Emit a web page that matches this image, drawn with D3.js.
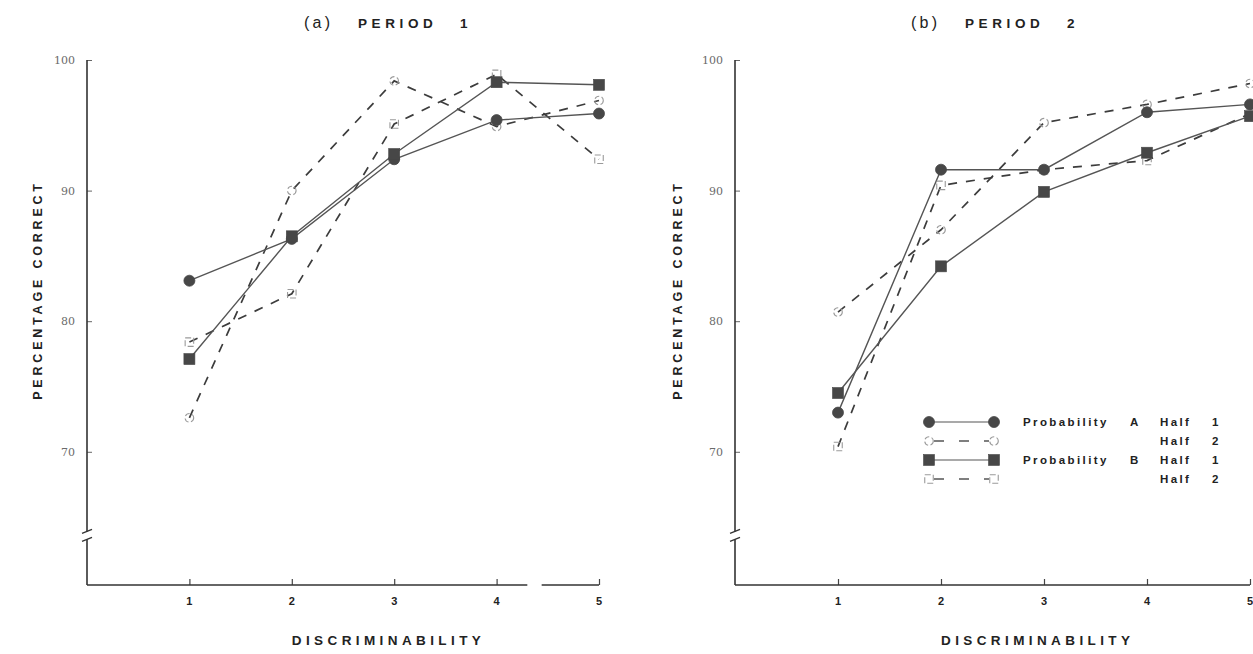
<!DOCTYPE html>
<html>
<head>
<meta charset="utf-8">
<script src="https://cdn.jsdelivr.net/npm/d3@7"></script>
<style>
  body { margin: 0; background: #fff; }
  svg { display: block; }
</style>
</head>
<body>
<svg id="chart" width="1253" height="654"></svg>
<script>
// ---- data -------------------------------------------------------------
const discriminability = [1, 2, 3, 4, 5];
const yTickValues = [70, 80, 90, 100];

// Period 1: percentage correct by discriminability level
const p1ProbAHalf1 = [83.1, 86.3, 92.4, 95.4, 95.9];
const p1ProbAHalf2 = [72.6, 90.0, 98.4, 94.9, 96.9];
const p1ProbBHalf1 = [77.1, 86.5, 92.8, 98.3, 98.1];
const p1ProbBHalf2 = [78.4, 82.1, 95.1, 98.9, 92.4];

// Period 2
const p2ProbAHalf1 = [73.0, 91.6, 91.6, 96.0, 96.6];
const p2ProbAHalf2 = [80.7, 87.0, 95.2, 96.6, 98.2];
const p2ProbBHalf1 = [74.5, 84.2, 89.9, 92.9, 95.7];
const p2ProbBHalf2 = [70.4, 90.4, 91.6, 92.3, 95.9];

const legendRows = [
  { key: "AH1", prob: "Probability", letter: "A", half: "Half", n: "1" },
  { key: "AH2", prob: "",            letter: "",  half: "Half", n: "2" },
  { key: "BH1", prob: "Probability", letter: "B", half: "Half", n: "1" },
  { key: "BH2", prob: "",            letter: "",  half: "Half", n: "2" }
];

// ---- styles per series ------------------------------------------------
const INK = "#474747";
const FAINT = "#9a9a9a";
const seriesStyle = {
  AH1: { marker: "circle", filled: true,  dashed: false },
  AH2: { marker: "circle", filled: false, dashed: true  },
  BH1: { marker: "square", filled: true,  dashed: false },
  BH2: { marker: "square", filled: false, dashed: true  }
};

const svg = d3.select("#chart");
const SANS = "'Liberation Sans', Arial, sans-serif";
const SERIF = "'DejaVu Serif', 'Liberation Serif', serif";

function drawMarker(g, type, filled, cx, cy) {
  if (type === "circle") {
    g.append("circle")
      .attr("cx", cx).attr("cy", cy)
      .attr("r", filled ? 5.5 : 4.3)
      .attr("fill", filled ? INK : "none")
      .attr("stroke", filled ? INK : FAINT)
      .attr("stroke-width", filled ? 0.8 : 1.1)
      .attr("stroke-dasharray", filled ? null : "5,2.5");
  } else {
    const s = filled ? 11 : 8.5;
    g.append("rect")
      .attr("x", cx - s / 2).attr("y", cy - s / 2)
      .attr("width", s).attr("height", s)
      .attr("fill", filled ? INK : "none")
      .attr("stroke", filled ? INK : FAINT)
      .attr("stroke-width", filled ? 0.6 : 1.1)
      .attr("stroke-dasharray", filled ? null : "6,2.5");
  }
}

function drawPanel(opt) {
  const x = d3.scaleLinear().domain([0, 5]).range([opt.left, opt.right]);
  const y = d3.scaleLinear().domain([100, 59.8]).range([60, 585]);
  const g = svg.append("g");

  // y axis (with break near the bottom)
  const yAxis = d3.axisRight(y).tickValues(yTickValues).tickSize(5).tickFormat("");
  const ya = g.append("g").attr("transform", `translate(${opt.left},0)`).call(yAxis);
  ya.select(".domain").remove();
  ya.selectAll(".tick line").attr("stroke", "#666").attr("stroke-width", 1);
  const breakTop = y(63.9), breakBot = y(63.3);
  g.append("line").attr("x1", opt.left).attr("x2", opt.left)
    .attr("y1", y(100)).attr("y2", breakTop)
    .attr("stroke", "#333").attr("stroke-width", 1.6);
  g.append("line").attr("x1", opt.left).attr("x2", opt.left)
    .attr("y1", breakBot).attr("y2", y(59.8))
    .attr("stroke", "#333").attr("stroke-width", 1.6);
  [breakTop, breakBot].forEach(by => {
    g.append("line")
      .attr("x1", opt.left - 5).attr("x2", opt.left + 5)
      .attr("y1", by + 2).attr("y2", by - 2)
      .attr("stroke", "#333").attr("stroke-width", 1.3);
  });

  // y tick labels
  g.selectAll(".ylab").data(yTickValues).join("text")
    .attr("x", opt.left - 12).attr("y", d => y(d) + 4)
    .attr("text-anchor", "end")
    .attr("font-family", SERIF).attr("font-size", 11)
    .attr("fill", "#6a6a6a")
    .text(d => d);

  // x axis (baseline drawn in pieces where the print drops out)
  const xAxis = d3.axisTop(x).tickValues(discriminability).tickSize(6).tickFormat("");
  const xa = g.append("g").attr("transform", `translate(0,${y(59.8)})`).call(xAxis);
  xa.select(".domain").remove();
  xa.selectAll(".tick line").attr("stroke", "#444").attr("stroke-width", 1.2);
  opt.baseSegments.forEach(([a, b]) => {
    g.append("line").attr("x1", x(a)).attr("x2", x(b))
      .attr("y1", y(59.8)).attr("y2", y(59.8))
      .attr("stroke", "#333").attr("stroke-width", 1.5);
  });
  g.selectAll(".xlab").data(discriminability).join("text")
    .attr("x", d => x(d)).attr("y", y(59.8) + 20)
    .attr("text-anchor", "middle")
    .attr("font-family", SANS).attr("font-weight", "bold").attr("font-size", 11)
    .attr("fill", "#222")
    .text(d => d);

  // axis titles
  g.append("text")
    .attr("x", x(2)).attr("y", 645)
    .attr("font-family", SANS).attr("font-weight", "bold").attr("font-size", 13.5)
    .attr("letter-spacing", 4.4).attr("fill", "#222")
    .text("DISCRIMINABILITY");
  g.append("text")
    .attr("transform", `translate(${opt.yTitleX},290) rotate(-90)`)
    .attr("text-anchor", "middle")
    .attr("font-family", SANS).attr("font-weight", "bold").attr("font-size", 12.5)
    .attr("letter-spacing", 3.8).attr("fill", "#222")
    .text("PERCENTAGE  CORRECT");

  // panel title: "(a)" in plain type, then bold spaced words
  g.append("text")
    .attr("x", opt.tagX).attr("y", 28)
    .attr("font-family", SANS).attr("font-size", 16).attr("letter-spacing", 3.2)
    .attr("fill", "#222").text(opt.tag);
  g.append("text")
    .attr("x", opt.tagX + 54).attr("y", 28)
    .attr("font-family", SANS).attr("font-size", 13.5).attr("font-weight", "bold")
    .attr("letter-spacing", 4.6).attr("fill", "#222").text("PERIOD");
  g.append("text")
    .attr("x", opt.tagX + 156).attr("y", 28)
    .attr("font-family", SANS).attr("font-size", 13.5).attr("font-weight", "bold")
    .attr("fill", "#222").text(opt.period);

  // series: lines first, then markers
  const line = d3.line().x((d, i) => x(discriminability[i])).y(d => y(d));
  const order = ["BH2", "AH2", "AH1", "BH1"];
  order.forEach(k => {
    const st = seriesStyle[k];
    g.append("path").datum(opt.series[k])
      .attr("d", line).attr("fill", "none")
      .attr("stroke", st.dashed ? "#3c3c3c" : "#555")
      .attr("stroke-width", st.dashed ? 1.7 : 1.4)
      .attr("stroke-dasharray", st.dashed ? "9,9" : null);
  });
  order.forEach(k => {
    const st = seriesStyle[k];
    opt.series[k].forEach((v, i) => {
      drawMarker(g, st.marker, st.filled, x(discriminability[i]), y(v));
    });
  });
  return g;
}

drawPanel({
  left: 87, right: 599, tagX: 304, yTitleX: 42,
  baseSegments: [[0, 4.3], [4.44, 5]],
  tag: "(a)", period: "1",
  series: { AH1: p1ProbAHalf1, AH2: p1ProbAHalf2, BH1: p1ProbBHalf1, BH2: p1ProbBHalf2 }
});
drawPanel({
  left: 735, right: 1250, tagX: 911, yTitleX: 682,
  baseSegments: [[0, 5]],
  tag: "(b)", period: "2",
  series: { AH1: p2ProbAHalf1, AH2: p2ProbAHalf2, BH1: p2ProbBHalf1, BH2: p2ProbBHalf2 }
});

// ---- legend (period 2 panel) -------------------------------------------
const legend = svg.append("g");
const lgX0 = 929, lgX1 = 994;
const rowY = d3.scalePoint().domain(legendRows.map(r => r.key)).range([422, 479]);
legendRows.forEach(r => {
  const st = seriesStyle[r.key];
  const yy = rowY(r.key);
  legend.append("line")
    .attr("x1", lgX0 + 5).attr("x2", lgX1 - 5).attr("y1", yy).attr("y2", yy)
    .attr("stroke", "#555")
    .attr("stroke-width", st.dashed ? 1.3 : 1.2)
    .attr("stroke-dasharray", st.dashed ? "10,15" : null);
  drawMarker(legend, st.marker, st.filled, lgX0, yy);
  drawMarker(legend, st.marker, st.filled, lgX1, yy);
  const txt = (xp, s) => legend.append("text")
    .attr("x", xp).attr("y", yy + 4)
    .attr("font-family", SANS).attr("font-weight", "bold").attr("font-size", 11.5)
    .attr("letter-spacing", 2.4).attr("fill", "#222").text(s);
  if (r.prob) txt(1023, r.prob);
  if (r.letter) txt(1130, r.letter);
  txt(1160, r.half);
  txt(1212, r.n);
});
</script>
</body>
</html>
